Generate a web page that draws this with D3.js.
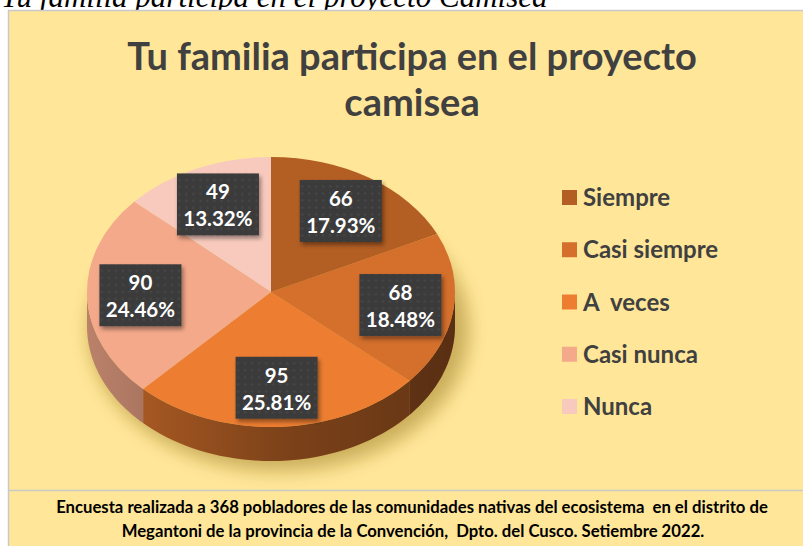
<!DOCTYPE html>
<html>
<head>
<meta charset="utf-8">
<script src="https://cdnjs.cloudflare.com/ajax/libs/d3/7.8.5/d3.min.js"></script>
<style>
  body { margin: 0; background: #fff; }
  svg { display: block; }
</style>
</head>
<body>
<div id="chart"></div>
<script>
// data
var categories = ['Siempre', 'Casi siempre', 'A  veces', 'Casi nunca', 'Nunca'];
var counts = [66, 68, 95, 90, 49];
var percents = ['17.93%', '18.48%', '25.81%', '24.46%', '13.32%'];

var sliceColors = ['#B35E23', '#D46F2C', '#ED7D31', '#F4A98A', '#F8CABD'];

const W = 803, H = 546;
const CX = 271, CY = 292, RX = 184, RY = 135, DEPTH = 34;

var svg = d3.select('#chart').append('svg')
            .attr('width', W)
            .attr('height', H);

var defs = svg.append('defs');

// dotted texture for label boxes
var pat = defs.append('pattern')
              .attr('id', 'dots')
              .attr('width', 7)
              .attr('height', 7)
              .attr('patternUnits', 'userSpaceOnUse');
pat.append('rect').attr('width', 7).attr('height', 7).attr('fill', '#3a3a3a');
pat.append('circle').attr('cx', 3.5).attr('cy', 3.5).attr('r', 1.2).attr('fill', '#474747');

var blur = defs.append('filter').attr('id', 'soft').attr('x', '-30%').attr('y', '-30%').attr('width', '160%').attr('height', '160%');
blur.append('feGaussianBlur').attr('stdDeviation', 9);

var boxShadow = defs.append('filter').attr('id', 'boxshadow').attr('x', '-20%').attr('y', '-20%').attr('width', '150%').attr('height', '150%');
boxShadow.append('feDropShadow').attr('dx', 2).attr('dy', 3).attr('stdDeviation', 2)
         .attr('flood-color', '#000').attr('flood-opacity', 0.4);

var sideGrad = defs.append('linearGradient')
                   .attr('id', 'sidegrad')
                   .attr('gradientUnits', 'userSpaceOnUse')
                   .attr('x1', CX - RX).attr('x2', CX + RX)
                   .attr('y1', 0).attr('y2', 0);
sideGrad.append('stop').attr('offset', 0).attr('stop-color', '#000').attr('stop-opacity', 0);
sideGrad.append('stop').attr('offset', 0.55).attr('stop-color', '#000').attr('stop-opacity', 0.32);
sideGrad.append('stop').attr('offset', 1).attr('stop-color', '#000').attr('stop-opacity', 0.45);

// top caption outside the chart, cut off by the page edge
svg.append('text')
   .attr('x', 1)
   .attr('y', 7)
   .attr('font-family', 'Liberation Serif, serif')
   .attr('font-style', 'italic')
   .attr('font-size', 31)
   .attr('fill', '#000')
   .text('Tu familia participa en el proyecto Camisea');

// chart panel
svg.append('rect')
   .attr('x', 8.5)
   .attr('y', 10.5)
   .attr('width', W)
   .attr('height', H)
   .attr('fill', '#FFE699')
   .attr('stroke', '#c9c9c9')
   .attr('stroke-width', 1.5);

svg.append('line')
   .attr('x1', 8).attr('x2', W)
   .attr('y1', 490.5).attr('y2', 490.5)
   .attr('stroke', '#c9c9c9')
   .attr('stroke-width', 1.5);

// title
var title = svg.append('text')
               .attr('text-anchor', 'middle')
               .attr('font-family', 'Lato, sans-serif')
               .attr('font-weight', 'bold')
               .attr('font-size', 38)
               .attr('fill', '#404040');
title.append('tspan').attr('x', 412).attr('y', 70).text('Tu familia participa en el proyecto');
title.append('tspan').attr('x', 412).attr('y', 116).text('camisea');

// pie
var pie = d3.pie().sort(null).value(d => d);
var arcsData = pie(counts);

var pieG = svg.append('g');

// shadow
pieG.append('ellipse')
    .attr('cx', CX + 8)
    .attr('cy', CY + DEPTH + 4)
    .attr('rx', RX + 6)
    .attr('ry', RY + 6)
    .attr('fill', '#8a6a10')
    .attr('opacity', 0.45)
    .attr('filter', 'url(#soft)');

function ept(a, dy) {
  return [CX + RX * Math.sin(a), CY - RY * Math.cos(a) + (dy || 0)];
}

// side walls (only the front half shows)
function sidePath(d) {
  var s = Math.max(d.startAngle, Math.PI / 2);
  var e = Math.min(d.endAngle, Math.PI * 1.5);
  if (s >= e) return null;
  var n = 40, top = [], bottom = [];
  for (var i = 0; i <= n; i++) {
    var a = s + (e - s) * i / n;
    top.push(ept(a, 0));
    bottom.push(ept(a, DEPTH));
  }
  return 'M' + top.map(p => p.join(',')).join('L') +
         'L' + bottom.reverse().map(p => p.join(',')).join('L') + 'Z';
}

var sides = arcsData.filter(d => sidePath(d));
pieG.selectAll('path.side').data(sides)
    .enter()
    .append('path')
    .classed('side', true)
    .attr('d', sidePath)
    .attr('fill', d => d3.color(sliceColors[d.index]).darker(0.75));
pieG.selectAll('path.sideshade').data(sides)
    .enter()
    .append('path')
    .attr('d', sidePath)
    .attr('fill', 'url(#sidegrad)');

// top face, drawn as a circle pie squashed into an ellipse
var arc = d3.arc().innerRadius(0).outerRadius(RX);
pieG.append('g')
    .attr('transform', 'translate(' + CX + ',' + CY + ') scale(1,' + (RY / RX) + ')')
    .selectAll('path.slice').data(arcsData)
    .enter()
    .append('path')
    .classed('slice', true)
    .attr('d', arc)
    .attr('fill', d => sliceColors[d.index]);

// data labels
var LABEL_R = 0.71;
var labels = svg.selectAll('g.lbl').data(arcsData)
                .enter()
                .append('g')
                .classed('lbl', true)
                .attr('transform', d => {
                  var mid = (d.startAngle + d.endAngle) / 2;
                  var x = CX + RX * LABEL_R * Math.sin(mid);
                  var y = CY - RY * LABEL_R * Math.cos(mid);
                  return 'translate(' + x + ',' + y + ')';
                });

labels.append('rect')
      .attr('x', -41)
      .attr('y', -31)
      .attr('width', 82)
      .attr('height', 62)
      .attr('fill', 'url(#dots)')
      .attr('filter', 'url(#boxshadow)');

labels.append('text')
      .attr('text-anchor', 'middle')
      .attr('y', -5)
      .attr('font-family', 'Lato, sans-serif')
      .attr('font-weight', 'bold')
      .attr('font-size', 20.5)
      .attr('fill', '#fff')
      .text(d => counts[d.index]);

labels.append('text')
      .attr('text-anchor', 'middle')
      .attr('y', 22)
      .attr('font-family', 'Lato, sans-serif')
      .attr('font-weight', 'bold')
      .attr('font-size', 20.5)
      .attr('fill', '#fff')
      .text(d => percents[d.index]);

// legend
var legendY = d3.scalePoint().domain(categories).range([198, 407]);
var legend = svg.selectAll('g.legend').data(categories)
                .enter()
                .append('g')
                .classed('legend', true)
                .attr('transform', d => 'translate(562,' + legendY(d) + ')');

legend.append('rect')
      .attr('x', 0)
      .attr('y', -8)
      .attr('width', 15)
      .attr('height', 15)
      .attr('fill', (d, i) => sliceColors[i]);

legend.append('text')
      .attr('x', 21)
      .attr('y', 8)
      .attr('font-family', 'Lato, sans-serif')
      .attr('font-weight', 'bold')
      .attr('font-size', 24)
      .attr('fill', '#404040')
      .attr('xml:space', 'preserve')
      .style('white-space', 'pre')
      .text(d => d);

// footer note
var foot = svg.append('text')
              .attr('text-anchor', 'middle')
              .attr('font-family', 'Lato, sans-serif')
              .attr('font-weight', 'bold')
              .attr('font-size', 16.7)
              .attr('fill', '#000')
              .style('white-space', 'pre');
foot.append('tspan').attr('x', 412).attr('y', 513)
    .text('Encuesta realizada a 368 pobladores de las comunidades nativas del ecosistema  en el distrito de');
foot.append('tspan').attr('x', 413).attr('y', 537)
    .text('Megantoni de la provincia de la Convención,  Dpto. del Cusco. Setiembre 2022.');
</script>
</body>
</html>
